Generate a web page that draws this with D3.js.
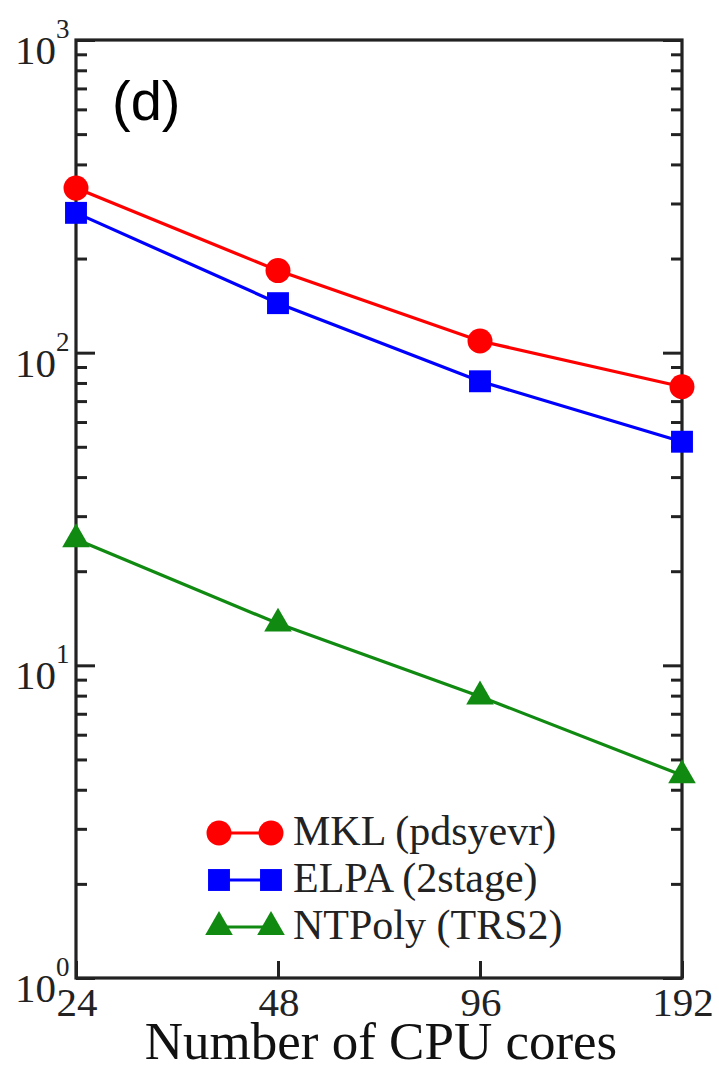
<!DOCTYPE html>
<html><head><meta charset="utf-8">
<script src="https://cdn.jsdelivr.net/npm/d3@7"></script>
<style>body{margin:0;background:#fff}svg{display:block}</style>
</head><body>
<script>
const cores = [24, 48, 96, 192];
const mkl = [336, 183, 109, 77.8];
const elpa = [280, 144, 81, 51.9];
const ntpoly = [25.3, 13.6, 7.95, 4.45];
const seriesNames = ["MKL (pdsyevr)", "ELPA (2stage)", "NTPoly (TRS2)"];
const yMajor = [1, 10, 100, 1000];
const yExp = ["0", "1", "2", "3"];
const xLabel = "Number of CPU cores";
const panelLabel = "(d)";

const W = 719, H = 1072;
const M = {left: 76, right: 682, top: 40, bottom: 978};
const svg = d3.select("body").append("svg").attr("width", W).attr("height", H);

const x = d3.scaleLog().base(2).domain([24, 192]).range([M.left, M.right]);
const y = d3.scaleLog().domain([1, 1000]).range([M.bottom, M.top]);

const serif = "'Liberation Serif','Times New Roman',serif";
const axisColor = "#222";

const minor = [];
for (let d = 1; d < 1000; d *= 10) for (let k = 2; k <= 9; k++) minor.push(d * k);

const gl = svg.append("g").attr("transform", `translate(${M.left},0)`)
  .call(d3.axisRight(y).tickValues(yMajor).tickSize(19).tickFormat(""));
const glm = svg.append("g").attr("transform", `translate(${M.left},0)`)
  .call(d3.axisRight(y).tickValues(minor).tickSize(11).tickFormat(""));
const gr = svg.append("g").attr("transform", `translate(${M.right},0)`)
  .call(d3.axisLeft(y).tickValues(yMajor).tickSize(19).tickFormat(""));
const grm = svg.append("g").attr("transform", `translate(${M.right},0)`)
  .call(d3.axisLeft(y).tickValues(minor).tickSize(11).tickFormat(""));
const gb = svg.append("g").attr("transform", `translate(0,${M.bottom})`)
  .call(d3.axisTop(x).tickValues(cores).tickSize(17).tickFormat(""));
[gl, glm, gr, grm, gb].forEach(g => {
  g.select(".domain").remove();
  g.selectAll("line").attr("stroke", axisColor).attr("stroke-width", 3);
});

svg.append("rect").attr("x", M.left).attr("y", M.top)
  .attr("width", M.right - M.left).attr("height", M.bottom - M.top)
  .attr("fill", "none").attr("stroke", axisColor).attr("stroke-width", 3.2);

yMajor.forEach((v, i) => {
  svg.append("text").attr("x", 56).attr("y", y(v) + 24)
    .attr("text-anchor", "end").attr("font-family", serif).attr("font-size", 41).attr("fill", "#222")
    .text("10");
  svg.append("text").attr("x", 56).attr("y", y(v) - 2)
    .attr("font-family", serif).attr("font-size", 27).attr("fill", "#222").text(yExp[i]);
});
cores.forEach(c => {
  svg.append("text").attr("x", x(c) + 1).attr("y", 1016)
    .attr("text-anchor", "middle").attr("font-family", serif).attr("font-size", 41).attr("fill", "#222")
    .text(c);
});
svg.append("text").attr("x", (M.left + M.right) / 2 + 2).attr("y", 1059)
  .attr("text-anchor", "middle").attr("font-family", serif).attr("font-size", 53).attr("fill", "#111")
  .text(xLabel);
svg.append("text").attr("x", 112).attr("y", 120)
  .attr("font-family", "'Liberation Sans',Arial,sans-serif").attr("font-size", 56).attr("fill", "#000")
  .text(panelLabel);

const colors = ["#ff0000", "#0000ff", "#118a11"];
const data = [mkl, elpa, ntpoly];
const shapes = [d3.symbolCircle, d3.symbolSquare, d3.symbolTriangle];
const sizes = [490, 480, 330];
const line = d3.line().x((d, i) => x(cores[i])).y(d => y(d));

data.forEach((s, k) => {
  svg.append("path").datum(s).attr("d", line).attr("fill", "none")
    .attr("stroke", colors[k]).attr("stroke-width", 3.2);
  svg.selectAll(null).data(s).enter().append("path")
    .attr("transform", (d, i) => `translate(${x(cores[i])},${y(d)})`)
    .attr("d", d3.symbol().type(shapes[k]).size(sizes[k]))
    .attr("fill", colors[k]);
});

const legY = [833, 880, 927];
seriesNames.forEach((name, k) => {
  const g = svg.append("g");
  g.append("line").attr("x1", 219).attr("x2", 271).attr("y1", legY[k]).attr("y2", legY[k])
    .attr("stroke", colors[k]).attr("stroke-width", 3);
  [219, 271].forEach(px => g.append("path")
    .attr("transform", `translate(${px},${legY[k]})`)
    .attr("d", d3.symbol().type(shapes[k]).size(sizes[k])).attr("fill", colors[k]));
  g.append("text").attr("x", 293).attr("y", legY[k] + 12)
    .attr("font-family", serif).attr("font-size", 42).attr("fill", "#222").text(name);
});
</script>
</body></html>
